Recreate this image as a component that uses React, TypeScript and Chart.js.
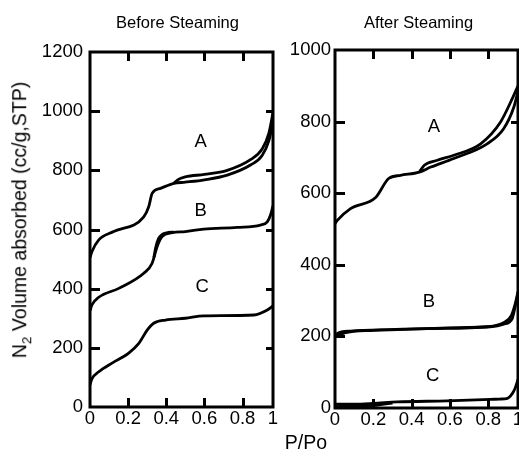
import React, { useEffect, useRef } from "react";
import { Chart, registerables } from "chart.js";

Chart.register(...registerables);

const FONT = "'Liberation Sans', Arial, Helvetica, sans-serif";

// Relative-pressure ticks (the last tick sits on the right frame edge and reads "1")
const pTicks = [0, 0.2, 0.4, 0.6, 0.8];

// ---- Before steaming (P/Po, volume cc/g STP) ----
const befA_adsP = [0, 0.01, 0.046, 0.124, 0.282, 0.308, 0.326, 0.37, 0.44, 0.5, 0.6, 0.72, 0.842, 0.903, 0.938, 0.96];
const befA_adsV = [505, 525, 565, 593, 643, 677, 722, 739, 756, 760, 768, 784, 818, 850, 900, 962];
const befA_desP = [0.44, 0.46, 0.5, 0.6, 0.72, 0.842, 0.903, 0.938, 0.96];
const befA_desV = [756, 768, 778, 786, 800, 836, 872, 925, 995];

const befB_adsP = [0, 0.01, 0.046, 0.151, 0.282, 0.326, 0.352, 0.378, 0.431, 0.5, 0.597, 0.772, 0.894, 0.93, 0.947, 0.96];
const befB_adsV = [325, 345, 371, 401, 452, 486, 542, 576, 589, 593, 601, 607, 615, 626, 649, 680];
const befB_desP = [0.335, 0.345, 0.36, 0.38, 0.41, 0.44];
const befB_desV = [505, 540, 570, 584, 590, 591];

const befC_adsP = [0, 0.01, 0.046, 0.12, 0.203, 0.256, 0.3, 0.334, 0.396, 0.5, 0.597, 0.86, 0.93, 0.96];
const befC_adsV = [75, 95, 119, 150, 182, 215, 260, 283, 294, 300, 308, 311, 328, 342];

// ---- After steaming ----
const aftA_adsP = [0, 0.012, 0.081, 0.212, 0.28, 0.342, 0.44, 0.5, 0.62, 0.794, 0.88, 0.933, 0.955];
const aftA_adsV = [515, 524, 557, 588, 641, 650, 659, 673, 697, 738, 780, 840, 885];
const aftA_desP = [0.44, 0.466, 0.534, 0.62, 0.76, 0.864, 0.925, 0.955];
const aftA_desV = [659, 678, 692, 706, 738, 799, 864, 900];

const aftB_adsP = [0, 0.012, 0.081, 0.325, 0.586, 0.81, 0.88, 0.925, 0.94, 0.955];
const aftB_adsV = [200, 208, 215, 219, 224, 227, 234, 250, 283, 320];
const aftB_desP = [0, 0.05, 0.2, 0.5, 0.8, 0.88, 0.92, 0.94, 0.955];
const aftB_desV = [198, 210, 217, 222, 227, 238, 258, 290, 325];

const aftC_adsP = [0, 0.1, 0.2, 0.325, 0.586, 0.81, 0.86, 0.9, 0.925, 0.94, 0.955];
const aftC_adsV = [11, 11, 13, 17, 20, 24, 25, 27, 40, 55, 80];
const aftC_desP = [0, 0.1, 0.2, 0.3];
const aftC_desV = [4, 5, 7, 14];

type Pt = { x: number; y: number };
type Note = { text: string; x: number; y: number };

const zip = (xs: number[], ys: number[]): Pt[] => xs.map((x, i) => ({ x, y: ys[i] }));

const curve = (xs: number[], ys: number[]) => ({
  data: zip(xs, ys),
  showLine: true,
  borderColor: "#000",
  borderWidth: 2.8,
  pointRadius: 0,
  cubicInterpolationMode: "monotone" as const,
  fill: false,
});

// Heavy frame, inward tick marks on all four sides, and the A/B/C curve letters
function makeFramePlugin(notes: Note[]) {
  return {
    id: "frame",
    afterDraw(chart: any) {
      const { ctx, chartArea, scales } = chart;
      const { left, right, top, bottom } = chartArea;
      const x = scales.x;
      const y = scales.y;
      ctx.save();
      ctx.strokeStyle = "#000";
      ctx.lineWidth = 3;
      ctx.lineCap = "butt";
      ctx.beginPath();
      for (const t of x.ticks) {
        if (t.value <= x.min || t.value >= x.max) continue;
        const px = Math.round(x.getPixelForValue(t.value)) + 0.5;
        ctx.moveTo(px, bottom);
        ctx.lineTo(px, bottom - 9);
        ctx.moveTo(px, top);
        ctx.lineTo(px, top + 9);
      }
      for (const t of y.ticks) {
        if (t.value <= y.min || t.value >= y.max) continue;
        const py = Math.round(y.getPixelForValue(t.value)) + 0.5;
        ctx.moveTo(left, py);
        ctx.lineTo(left + 10, py);
        ctx.moveTo(right, py);
        ctx.lineTo(right - 7, py);
      }
      ctx.stroke();
      ctx.strokeRect(left, top, right - left, bottom - top);

      ctx.fillStyle = "#000";
      ctx.font = `18.5px ${FONT}`;
      ctx.textAlign = "center";
      ctx.textBaseline = "middle";
      for (const n of notes) {
        ctx.fillText(n.text, x.getPixelForValue(n.x), y.getPixelForValue(n.y));
      }
      ctx.restore();
    },
  };
}

type PanelProps = {
  left: number;
  width: number;
  datasets: any[];
  xMax: number;
  yMax: number;
  yAxisWidth: number;
  yLabelPad: number;
  padTop: number;
  padRight: number;
  xAxisHeight: number;
  notes: Note[];
};

function Panel(p: PanelProps) {
  const ref = useRef<HTMLCanvasElement | null>(null);

  useEffect(() => {
    if (!ref.current) return;
    const chart = new Chart(ref.current, {
      type: "scatter",
      data: { datasets: p.datasets },
      options: {
        animation: false,
        responsive: false,
        devicePixelRatio: 1,
        layout: { padding: { top: p.padTop, right: p.padRight, left: 0, bottom: 0 } },
        plugins: { legend: { display: false }, tooltip: { enabled: false }, title: { display: false } },
        scales: {
          x: {
            type: "linear",
            min: 0,
            max: p.xMax,
            grid: { display: false, drawTicks: false },
            border: { display: false },
            afterBuildTicks: (s: any) => {
              s.ticks = [...pTicks, p.xMax].map((v) => ({ value: v }));
            },
            afterFit: (s: any) => {
              s.height = p.xAxisHeight;
            },
            ticks: {
              padding: 1,
              maxRotation: 0,
              autoSkip: false,
              color: "#000",
              font: { family: FONT, size: 18.5 },
              callback: (v: any) => (Math.abs(Number(v) - p.xMax) < 1e-9 ? "1" : String(Number(v))),
            },
          },
          y: {
            type: "linear",
            min: 0,
            max: p.yMax,
            grid: { display: false, drawTicks: false },
            border: { display: false },
            afterFit: (s: any) => {
              s.width = p.yAxisWidth;
            },
            ticks: {
              stepSize: 200,
              padding: p.yLabelPad,
              color: "#000",
              font: { family: FONT, size: 18.5 },
              callback: (v: any) => String(Number(v)),
            },
          },
        },
      },
      plugins: [makeFramePlugin(p.notes)],
    });
    return () => chart.destroy();
  }, []);

  return (
    <canvas
      ref={ref}
      width={p.width}
      height={463}
      style={{ position: "absolute", left: p.left, top: 0, width: p.width, height: 463 }}
    />
  );
}

const beforeSets = [
  curve(befA_adsP, befA_adsV),
  curve(befA_desP, befA_desV),
  curve(befB_adsP, befB_adsV),
  curve(befB_desP, befB_desV),
  curve(befC_adsP, befC_adsV),
];

const afterSets = [
  curve(aftA_adsP, aftA_adsV),
  curve(aftA_desP, aftA_desV),
  curve(aftB_adsP, aftB_adsV),
  curve(aftB_desP, aftB_desV),
  curve(aftC_adsP, aftC_adsV),
  curve(aftC_desP, aftC_desV),
];

const beforeNotes: Note[] = [
  { text: "A", x: 0.58, y: 896 },
  { text: "B", x: 0.58, y: 663 },
  { text: "C", x: 0.589, y: 406 },
];

const afterNotes: Note[] = [
  { text: "A", x: 0.516, y: 784 },
  { text: "B", x: 0.49, y: 296 },
  { text: "C", x: 0.51, y: 89 },
];

const textBase: React.CSSProperties = {
  position: "absolute",
  fontFamily: FONT,
  color: "#000",
  whiteSpace: "nowrap",
  lineHeight: 1,
  transform: "translate(-50%, -50%)",
};

export default function App() {
  return (
    <div
      style={{
        position: "absolute",
        left: 0,
        top: 0,
        width: 519,
        height: 463,
        overflow: "hidden",
        background: "#fff",
      }}
    >
      <Panel
        left={0}
        width={290}
        datasets={beforeSets}
        xMax={0.96}
        yMax={1200}
        yAxisWidth={90}
        yLabelPad={7}
        padTop={52}
        padRight={17}
        xAxisHeight={56}
        notes={beforeNotes}
      />
      <Panel
        left={285}
        width={250}
        datasets={afterSets}
        xMax={0.955}
        yMax={1000}
        yAxisWidth={50}
        yLabelPad={4}
        padTop={50}
        padRight={17}
        xAxisHeight={55}
        notes={afterNotes}
      />
      <div style={{ ...textBase, left: 177.5, top: 22, fontSize: 16.5 }}>Before Steaming</div>
      <div style={{ ...textBase, left: 418.5, top: 22, fontSize: 16.5 }}>After Steaming</div>
      <div style={{ ...textBase, left: 306, top: 443, fontSize: 19.5 }}>P/Po</div>
      <div
        style={{
          ...textBase,
          left: 22,
          top: 220,
          fontSize: 19.5,
          transform: "translate(-50%, -50%) rotate(-90deg)",
        }}
      >
        N<sub style={{ fontSize: "0.7em" }}>2</sub> Volume absorbed (cc/g,STP)
      </div>
    </div>
  );
}
